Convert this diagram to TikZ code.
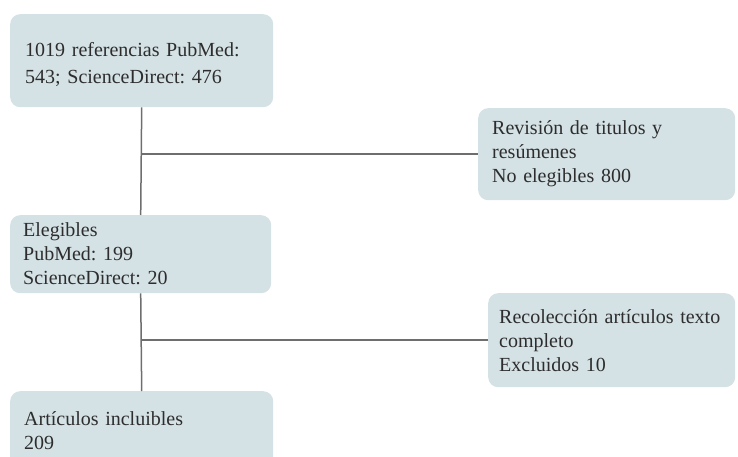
\documentclass[tikz,border=0pt]{standalone}
\usepackage{fontspec}
\setmainfont{Liberation Serif}
\usetikzlibrary{calc}

\definecolor{boxfill}{RGB}{212,225,229}
\definecolor{linegray}{RGB}{110,110,110}
\definecolor{textgray}{RGB}{45,45,45}

\tikzset{
    stepbox/.style={fill=boxfill, rounded corners=10pt, align=left, anchor=north west,
        inner ysep=4pt, text=textgray, font=\fontsize{20}{24}\selectfont\frenchspacing},
    link/.style={draw=linegray, line width=1.5pt}
}

\begin{document}
\begin{tikzpicture}[x=1pt, y=-1pt]
    \useasboundingbox (0,0) rectangle (738,457);

    \node[stepbox, text width=233pt, inner xsep=15pt, minimum height=93pt,
        font=\fontsize{20}{27}\selectfont\frenchspacing, text depth=22pt] (refs) at (10,14)
        {1019 referencias PubMed:\\543; ScienceDirect: 476};
    \node[stepbox, text width=229pt, inner xsep=14pt, minimum height=92pt] (rev) at (478,108)
        {Revisión de titulos y\\resúmenes\\No elegibles 800};
    \node[stepbox, text width=235pt, inner xsep=13pt, minimum height=78pt] (elig) at (10,215)
        {Elegibles\\PubMed: 199\\ScienceDirect: 20};
    \node[stepbox, text width=225pt, inner xsep=11pt, minimum height=94pt] (recol) at (488,293)
        {Recolección artículos texto\\completo\\Excluidos 10};
    \node[stepbox, text width=235pt, inner xsep=14pt, minimum height=78pt] (incl) at (10,391)
        {Artículos incluibles\\209};

    \coordinate (b1) at (refs.south |- rev.west);
    \coordinate (b2) at (elig.south |- recol.west);

    \draw[link] (refs.south) -- (elig.north);
    \draw[link] (b1) -- (rev.west);
    \draw[link] (elig.south) -- (incl.north);
    \draw[link] (b2) -- (recol.west);
\end{tikzpicture}
\end{document}
